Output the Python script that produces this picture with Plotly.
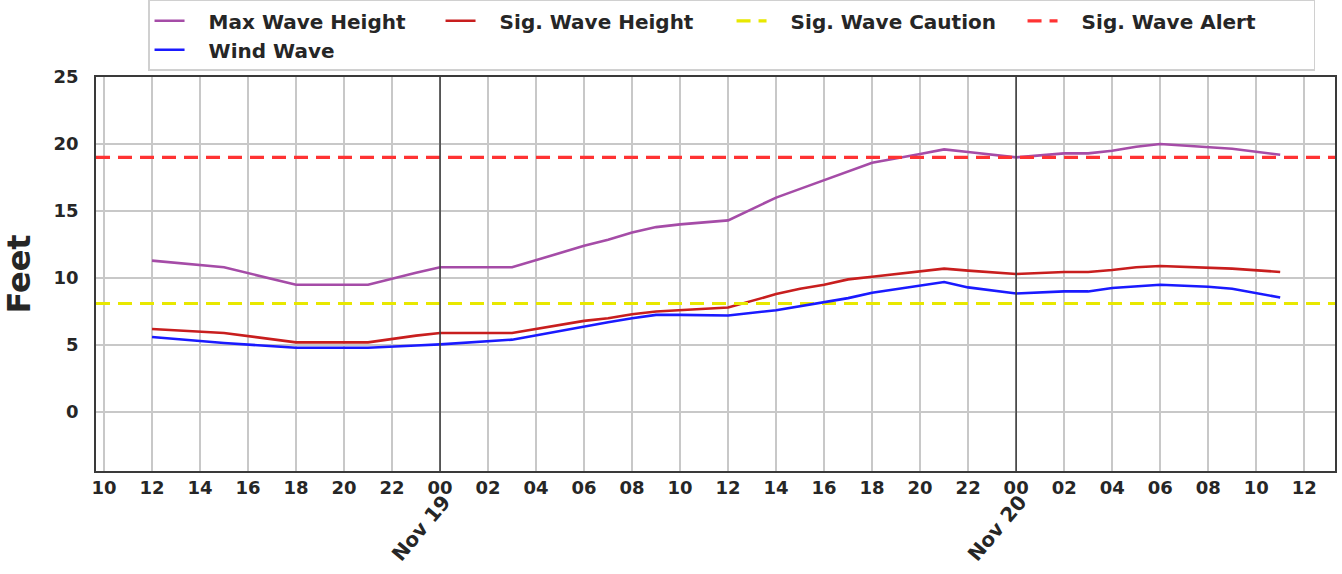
import plotly.graph_objects as go

times = [
    "2019-11-18 12:00", "2019-11-18 15:00", "2019-11-18 18:00", "2019-11-18 21:00", "2019-11-18 23:00",
    "2019-11-19 00:00", "2019-11-19 03:00", "2019-11-19 06:00", "2019-11-19 07:00", "2019-11-19 08:00",
    "2019-11-19 09:00", "2019-11-19 10:00", "2019-11-19 12:00", "2019-11-19 14:00", "2019-11-19 15:00",
    "2019-11-19 16:00", "2019-11-19 17:00", "2019-11-19 18:00", "2019-11-19 20:00", "2019-11-19 21:00",
    "2019-11-19 22:00", "2019-11-20 00:00", "2019-11-20 02:00", "2019-11-20 03:00", "2019-11-20 04:00",
    "2019-11-20 05:00", "2019-11-20 06:00", "2019-11-20 08:00", "2019-11-20 09:00", "2019-11-20 11:00",
]
max_wave = [11.3, 10.8, 9.5, 9.5, 10.4,
            10.8, 10.8, 12.4, 12.85, 13.4,
            13.8, 14.0, 14.3, 16.0, 16.65,
            17.3, 18.0, 18.6, 19.25, 19.6,
            19.4, 19.0, 19.3, 19.3, 19.5,
            19.8, 20.0, 19.8, 19.65, 19.2]
sig_wave = [6.2, 5.9, 5.2, 5.2, 5.7,
            5.9, 5.9, 6.8, 7.0, 7.3,
            7.5, 7.6, 7.8, 8.8, 9.2,
            9.5, 9.9, 10.1, 10.5, 10.7,
            10.55, 10.3, 10.45, 10.45, 10.6,
            10.8, 10.9, 10.75, 10.7, 10.45]
wind_wave = [5.6, 5.15, 4.8, 4.8, 4.97,
             5.05, 5.4, 6.4, 6.7, 7.0,
             7.25, 7.25, 7.2, 7.6, 7.9,
             8.2, 8.5, 8.9, 9.4, 9.7,
             9.3, 8.85, 9.0, 9.0, 9.25,
             9.35, 9.5, 9.35, 9.2, 8.55]
caution_level = 8.1
alert_level = 19.0
x_range = ["2019-11-18 09:40", "2019-11-20 13:17"]
day_marks = ["2019-11-19 00:00", "2019-11-20 00:00"]
day_labels = ["Nov 19", "Nov 20"]

TXT = "#262626"
FONT = "DejaVu Sans"
PAD = "&nbsp;&nbsp;&nbsp;"

fig = go.Figure()
fig.add_trace(go.Scatter(x=times, y=max_wave, mode="lines", name=PAD + "<b>Max Wave Height</b>",
                         line=dict(color="#a54ca7", width=2.6)))
fig.add_trace(go.Scatter(x=times, y=sig_wave, mode="lines", name=PAD + "<b>Sig. Wave Height</b>",
                         line=dict(color="#c81e1e", width=2.6)))
fig.add_trace(go.Scatter(x=x_range, y=[caution_level] * 2, mode="lines", name=PAD + "<b>Sig. Wave Caution</b>",
                         line=dict(color="#e8e800", width=3.2, dash="14px,8px")))
fig.add_trace(go.Scatter(x=x_range, y=[alert_level] * 2, mode="lines", name=PAD + "<b>Sig. Wave Alert</b>",
                         line=dict(color="#ff3333", width=3.2, dash="14px,8px")))
fig.add_trace(go.Scatter(x=times, y=wind_wave, mode="lines", name=PAD + "<b>Wind Wave</b>",
                         line=dict(color="#1a1aff", width=2.6)))

for d in day_marks:
    fig.add_shape(type="line", xref="x", yref="paper", x0=d, x1=d, y0=0, y1=1,
                  line=dict(color="#3a3a3a", width=1.5), layer="above")

for d, lab in zip(day_marks, day_labels):
    fig.add_annotation(x=d, y=-0.145, xref="x", yref="paper", text="<b>" + lab + "</b>",
                       textangle=-50, showarrow=False, xanchor="center", yanchor="middle",
                       xshift=-19, font=dict(family=FONT, size=20, color=TXT))

fig.update_layout(
    width=1342, height=574,
    margin=dict(l=96, r=7, t=77, b=103, autoexpand=False),
    paper_bgcolor="white", plot_bgcolor="white",
    font=dict(family=FONT, size=18, color=TXT),
    showlegend=True,
    legend=dict(orientation="h", x=0.042, y=1.196, xanchor="left", yanchor="top",
                bgcolor="white", bordercolor="#d0d0d0", borderwidth=1.5,
                entrywidth=246, entrywidthmode="pixels", traceorder="normal",
                font=dict(family=FONT, size=20, color=TXT)),
    xaxis=dict(type="date", range=x_range, tickformat="%H", dtick=2 * 3600 * 1000,
               tick0="2019-11-18 00:00", showgrid=True, gridcolor="#c8c8c8", gridwidth=1.5,
               showline=True, linecolor="#3a3a3a", linewidth=1.5, mirror=True,
               ticks="", tickfont=dict(family=FONT, size=18, color=TXT, weight="bold"), zeroline=False),
    yaxis=dict(range=[-4.4, 25], tickvals=[0, 5, 10, 15, 20, 25], showgrid=True,
               gridcolor="#c8c8c8", gridwidth=1.5, showline=True, linecolor="#3a3a3a",
               linewidth=1.5, mirror=True, ticks="", zeroline=False, ticklabelstandoff=12,
               tickfont=dict(family=FONT, size=18, color=TXT, weight="bold"),
               title=dict(text="<b>Feet</b>", font=dict(family=FONT, size=32, color=TXT), standoff=14)),
)

fig.write_html("out.html", config={"displayModeBar": False},
               post_script="document.body.style.margin='0';document.body.style.overflow='hidden';")
